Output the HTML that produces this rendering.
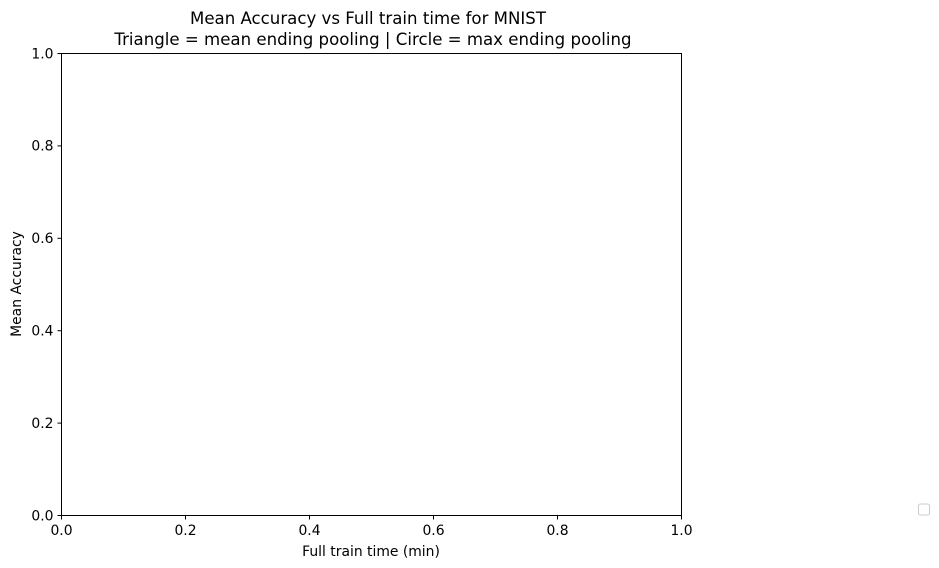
<!DOCTYPE html>
<html><head><meta charset="utf-8"><style>
body{margin:0;background:#fff;}
svg{display:block;font-family:"DejaVu Sans","Liberation Sans",sans-serif;}
</style></head><body>
<svg width="939" height="568" viewBox="0 0 939 568">
<text x="368" y="24" text-anchor="middle" font-size="16.6">Mean Accuracy vs Full train time for MNIST</text>
<text x="373" y="45" text-anchor="middle" font-size="16.6">Triangle = mean ending pooling | Circle = max ending pooling</text>
<rect x="61.5" y="53.5" width="620" height="462" fill="none" stroke="#000" stroke-width="1"/>
<g id="xt"></g>
<g id="yt"></g>
<text x="371" y="556" text-anchor="middle" font-size="13.9">Full train time (min)</text>
<text transform="translate(21,284) rotate(-90)" text-anchor="middle" font-size="13.9">Mean Accuracy</text>
<rect x="918.5" y="504" width="11" height="11" rx="2" fill="#fff" stroke="#ccc"/>
</svg>
<script>
const xTicks=["0.0","0.2","0.4","0.6","0.8","1.0"];
const yTicks=["0.0","0.2","0.4","0.6","0.8","1.0"];
const NS="http://www.w3.org/2000/svg";
const X0=61.5,X1=681.5,Y0=515.5,Y1=53.5;
const xs=v=>X0+(v)*(X1-X0);
const ys=v=>Y0-(v)*(Y0-Y1);
const xg=document.getElementById('xt'),yg=document.getElementById('yt');
xTicks.forEach(t=>{
 const x=xs(parseFloat(t));
 const l=document.createElementNS(NS,'line');
 l.setAttribute('x1',x);l.setAttribute('x2',x);l.setAttribute('y1',Y0);l.setAttribute('y2',Y0+4);l.setAttribute('stroke','#000');
 
 
 xg.appendChild(l);
 const s=document.createElementNS(NS,'text');
 s.setAttribute('x',x);s.setAttribute('y',535);s.setAttribute('text-anchor','middle');s.setAttribute('font-size','13.9');s.textContent=t;
 
 
 xg.appendChild(s);
});
yTicks.forEach(t=>{
 const y=ys(parseFloat(t));
 const l=document.createElementNS(NS,'line');
 l.setAttribute('x1',X0-4);l.setAttribute('x2',X0);l.setAttribute('y1',y);l.setAttribute('y2',y);l.setAttribute('stroke','#000');
 
 
 yg.appendChild(l);
 const s=document.createElementNS(NS,'text');
 s.setAttribute('x',X0-8);s.setAttribute('y',y+4.8);s.setAttribute('text-anchor','end');s.setAttribute('font-size','13.9');s.textContent=t;
 
 
 yg.appendChild(s);
});
</script>
</body></html>
